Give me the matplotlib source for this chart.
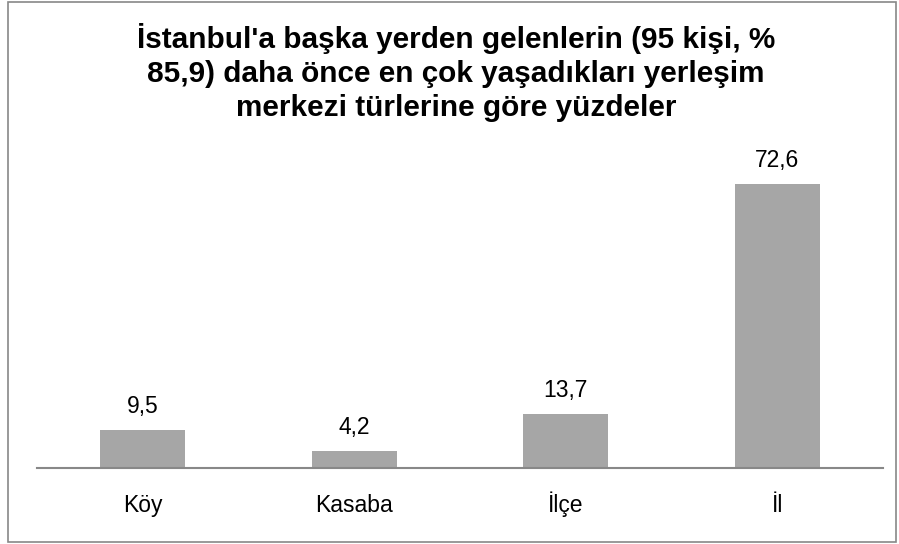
import matplotlib
matplotlib.use('Agg')
import matplotlib.pyplot as plt
from matplotlib.patches import Rectangle

categories = ['Köy', 'Kasaba', 'İlçe', 'İl']
values = [9.5, 4.2, 13.7, 72.6]
value_labels = ['9,5', '4,2', '13,7', '72,6']
title_lines = ["İstanbul'a başka yerden gelenlerin (95 kişi, %",
               "85,9) daha önce en çok yaşadıkları yerleşim",
               "merkezi türlerine göre yüzdeler"]

plt.rcParams['font.family'] = ['Liberation Sans', 'DejaVu Sans']

W, H = 899, 544
PX = 72 / 100  # points per pixel at dpi 100
fig = plt.figure(figsize=(W / 100, H / 100), dpi=100)

# outer gray frame
fig.patches.append(Rectangle((8 / W, 2 / H), 888 / W, 540 / H, transform=fig.transFigure,
                             fill=False, edgecolor='#888888', linewidth=1.2))

ax = fig.add_axes([37 / W, 1 - 467.5 / H, 846 / W, 312 / H])
x = range(len(categories))
ax.bar(x, values, width=0.4, color='#a6a6a6')
ax.set_xlim(-0.5, len(categories) - 0.5)
ax.set_ylim(0, 80)

for xi, v, lab in zip(x, values, value_labels):
    ax.annotate(lab, (xi, v), xytext=(0, 17 * PX), textcoords='offset points',
                ha='center', va='baseline', fontsize=16.5)
    ax.annotate(categories[xi], (xi, 0), xycoords=('data', 'axes fraction'),
                xytext=(0, -44.5 * PX), textcoords='offset points',
                ha='center', va='baseline', fontsize=16.5)

for s in ['top', 'right', 'left']:
    ax.spines[s].set_visible(False)
ax.spines['bottom'].set_color('#888888')
ax.spines['bottom'].set_linewidth(1.5)
ax.set_yticks([])
ax.set_xticks([])

for i, line in enumerate(title_lines):
    fig.text(456 / W, 1 - (48 + 34 * i) / H, line, ha='center', va='baseline',
             fontsize=21.4, fontweight='bold')

fig.savefig('out.png', dpi=100)
